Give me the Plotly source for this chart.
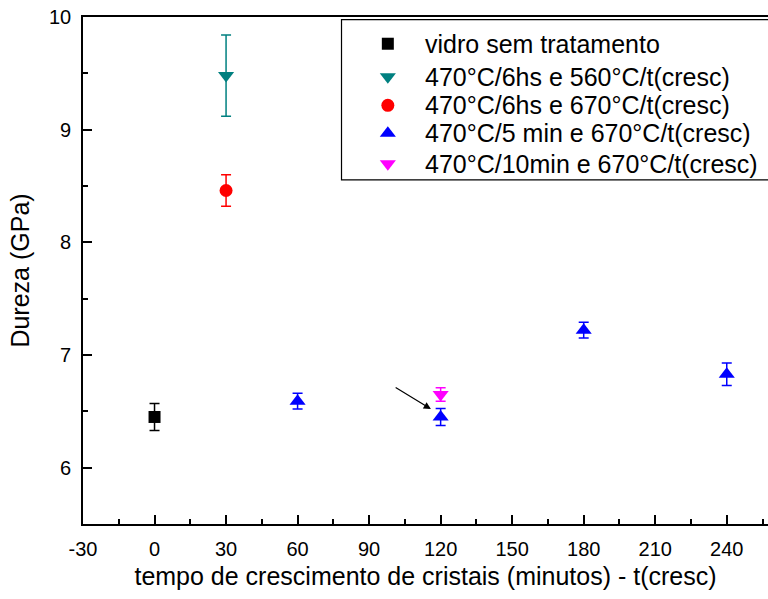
import plotly.graph_objects as go

# Hardness (GPa) vs crystal growth time (minutes), with standard-deviation error bars
series_names = [
    "vidro sem tratamento",
    "470°C/6hs e 560°C/t(cresc)",
    "470°C/6hs e 670°C/t(cresc)",
    "470°C/5 min e 670°C/t(cresc)",
    "470°C/10min e 670°C/t(cresc)",
]

vidro_x = [0]
vidro_y = [6.45]
vidro_err = [0.12]

s560_x = [30]
s560_y = [9.48]
s560_err = [0.36]

s670_6h_x = [30]
s670_6h_y = [8.46]
s670_6h_err = [0.14]

s670_5min_x = [60, 120, 180, 240]
s670_5min_y = [6.59, 6.45, 7.22, 6.83]
s670_5min_err = [0.07, 0.075, 0.07, 0.10]

s670_10min_x = [120]
s670_10min_y = [6.65]
s670_10min_err = [0.06]

x_ticks = [-30, 0, 30, 60, 90, 120, 150, 180, 210, 240]
x_tick_labels = ["-30", "0", "30", "60", "90", "120", "150", "180", "210", "240"]
y_ticks = [6, 7, 8, 9, 10]

FONT = "Liberation Sans, Arial, sans-serif"

styles = [
    dict(symbol="square", color="#000000", size=12),
    dict(symbol="triangle-down", color="#008080", size=14),
    dict(symbol="circle", color="#FF0000", size=13),
    dict(symbol="triangle-up", color="#0000FF", size=14),
    dict(symbol="triangle-down", color="#FF00FF", size=14),
]
data = [
    (vidro_x, vidro_y, vidro_err),
    (s560_x, s560_y, s560_err),
    (s670_6h_x, s670_6h_y, s670_6h_err),
    (s670_5min_x, s670_5min_y, s670_5min_err),
    (s670_10min_x, s670_10min_y, s670_10min_err),
]

fig = go.Figure()
for name, (xs, ys, es), st in zip(series_names, data, styles):
    fig.add_trace(go.Scatter(
        x=xs, y=ys, mode="markers", name=name,
        marker=dict(symbol=st["symbol"], color=st["color"], size=st["size"]),
        error_y=dict(type="data", array=es, visible=True,
                     color=st["color"], thickness=1.5, width=5),
    ))

# Legend box: drawn in pixel coordinates on an overlay axis pair
L, R, T, B = 83.3, 768.0, 17.3, 523.7
legend_marker_x = 388
legend_text_x = 422.7
legend_rows = [44, 77, 105.5, 133.5, 164]

for name, st, row in zip(series_names, styles, legend_rows):
    fig.add_trace(go.Scatter(
        x=[legend_marker_x], y=[row], xaxis="x2", yaxis="y2",
        mode="markers", showlegend=False, hoverinfo="skip",
        marker=dict(symbol=st["symbol"], color=st["color"], size=st["size"]),
    ))
    fig.add_annotation(
        x=legend_text_x, y=row, xref="x2", yref="y2",
        text=name, showarrow=False, xanchor="left", yanchor="middle",
        font=dict(family=FONT, size=25, color="black"),
    )

fig.add_shape(type="rect", xref="x2", yref="y2",
              x0=341.7, x1=790, y0=20, y1=180,
              line=dict(color="black", width=1.2), fillcolor="white", layer="below")

# Arrow pointing at the 120 min point
fig.add_annotation(
    x=115.9, y=6.52, ax=100.5, ay=6.72, xref="x", yref="y", axref="x", ayref="y",
    text="", showarrow=True, arrowhead=2, arrowsize=1.2, arrowwidth=1.2,
    arrowcolor="black",
)

axis_common = dict(
    showgrid=False, zeroline=False, showline=True, linecolor="black",
    linewidth=1.6, ticks="inside", tickcolor="black", tickwidth=1.5,
    tickfont=dict(family=FONT, size=20, color="black"),
)

fig.update_layout(
    width=768, height=599,
    margin=dict(l=L, r=0, t=T, b=599 - B, autoexpand=False),
    paper_bgcolor="white", plot_bgcolor="white",
    showlegend=False,
    font=dict(family=FONT, color="black"),
    xaxis=dict(
        **axis_common, range=[-30, 257.3], tickmode="array",
        tickvals=x_ticks, ticktext=x_tick_labels,
        ticklen=9, mirror=True,
        minor=dict(dtick=15, tick0=0, ticks="inside", ticklen=5,
                   tickcolor="black", tickwidth=1.5),
        title=dict(text="tempo de crescimento de cristais (minutos) - t(cresc)",
                   font=dict(family=FONT, size=25, color="black"), standoff=9),
        ticklabelstandoff=6,
    ),
    yaxis=dict(
        **axis_common, range=[5.5, 10], tickmode="array", tickvals=y_ticks,
        ticklen=9,
        minor=dict(dtick=0.5, tick0=0, ticks="inside", ticklen=5,
                   tickcolor="black", tickwidth=1.5),
        title=dict(text="Dureza (GPa)",
                   font=dict(family=FONT, size=25, color="black"), standoff=12),
        ticklabelstandoff=6,
    ),
    xaxis2=dict(overlaying="x", anchor="y2", range=[L, R], visible=False),
    yaxis2=dict(overlaying="y", anchor="x2", range=[B, T], visible=False),
)

fig.write_html("out.html")
